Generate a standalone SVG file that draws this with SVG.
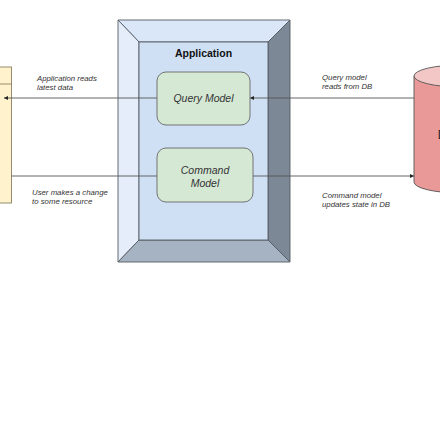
<svg xmlns="http://www.w3.org/2000/svg" width="440" height="440" viewBox="0 0 440 440">
<defs>
<style>
.lbl{font-family:"Liberation Sans",Arial,sans-serif;font-style:italic;font-size:7.8px;fill:#333}
.nt{font-family:"Liberation Sans",Arial,sans-serif;font-style:italic;font-size:10.5px;fill:#333;text-anchor:middle}
.edge{stroke:#555;stroke-width:0.9;fill:none}
.fr{stroke:#555b63;stroke-width:0.9}
</style>
<marker id="ah" viewBox="0 0 6 6" refX="6" refY="3" markerWidth="4" markerHeight="4" orient="auto" markerUnits="userSpaceOnUse">
<path d="M0,0 L6,3 L0,6 Z" fill="#222"/>
</marker>
</defs>
<rect width="440" height="440" fill="#fff"/>
<g id="client">
<rect x="-60" y="67" width="71.5" height="136" fill="#fff2cc" stroke="#8a8060" stroke-width="0.9"/>
<line x1="-60" y1="84" x2="11.5" y2="84" stroke="#8a8060" stroke-width="0.9"/>
</g>
<g id="application">
<polygon class="fr" points="118,20 290,20 268,42 139,42" fill="#d9e7f8"/>
<polygon class="fr" points="118,20 139,42 139,240 118,262" fill="#e4edf9"/>
<polygon class="fr" points="290,20 290,262 268,240 268,42" fill="#7c8896"/>
<polygon class="fr" points="118,262 139,240 268,240 290,262" fill="#a5b3c2"/>
<rect class="fr" x="139" y="42" width="129" height="198" fill="#cfe0f4"/>
<text x="203.5" y="57" font-family="'Liberation Sans',Arial,sans-serif" font-weight="bold" font-size="10.5" fill="#111" text-anchor="middle">Application</text>
</g>
<g id="db">
<path d="M414,76 L414,182 A46,11 0 0 0 506,182 L506,76" fill="#ea9999" stroke="#555" stroke-width="0.9"/>
<ellipse cx="460" cy="76" rx="46" ry="11" fill="#f4c7c7" stroke="#555" stroke-width="0.9"/>
<text x="446" y="139" font-family="'Liberation Sans',Arial,sans-serif" font-size="12" fill="#222" text-anchor="middle">DB</text>
</g>
<g id="connectors">
<line class="edge" x1="157" y1="98" x2="4" y2="98" marker-end="url(#ah)"/>
<line class="edge" x1="414" y1="98" x2="250" y2="98" marker-end="url(#ah)"/>
<line class="edge" x1="11.5" y1="176" x2="168" y2="176" marker-end="url(#ah)"/>
<line class="edge" x1="253" y1="176" x2="414" y2="176" marker-end="url(#ah)"/>
<text class="lbl" x="37" y="81">Application reads</text>
<text class="lbl" x="37" y="90">latest data</text>
<text class="lbl" x="32" y="195">User makes a change</text>
<text class="lbl" x="32" y="204">to some resource</text>
<text class="lbl" x="322" y="80">Query model</text>
<text class="lbl" x="322" y="89">reads from DB</text>
<text class="lbl" x="322" y="198">Command model</text>
<text class="lbl" x="322" y="207">updates state in DB</text>
</g>
<g id="query-model">
<rect x="157" y="72" width="93" height="53" rx="9" fill="#d5e8d4" stroke="#666" stroke-width="0.9"/>
<text class="nt" x="203.5" y="102">Query Model</text>
</g>
<g id="command-model">
<rect x="157" y="148" width="96" height="54" rx="9" fill="#d5e8d4" stroke="#666" stroke-width="0.9"/>
<text class="nt" x="205" y="174">Command</text>
<text class="nt" x="205" y="187">Model</text>
</g>
</svg>
